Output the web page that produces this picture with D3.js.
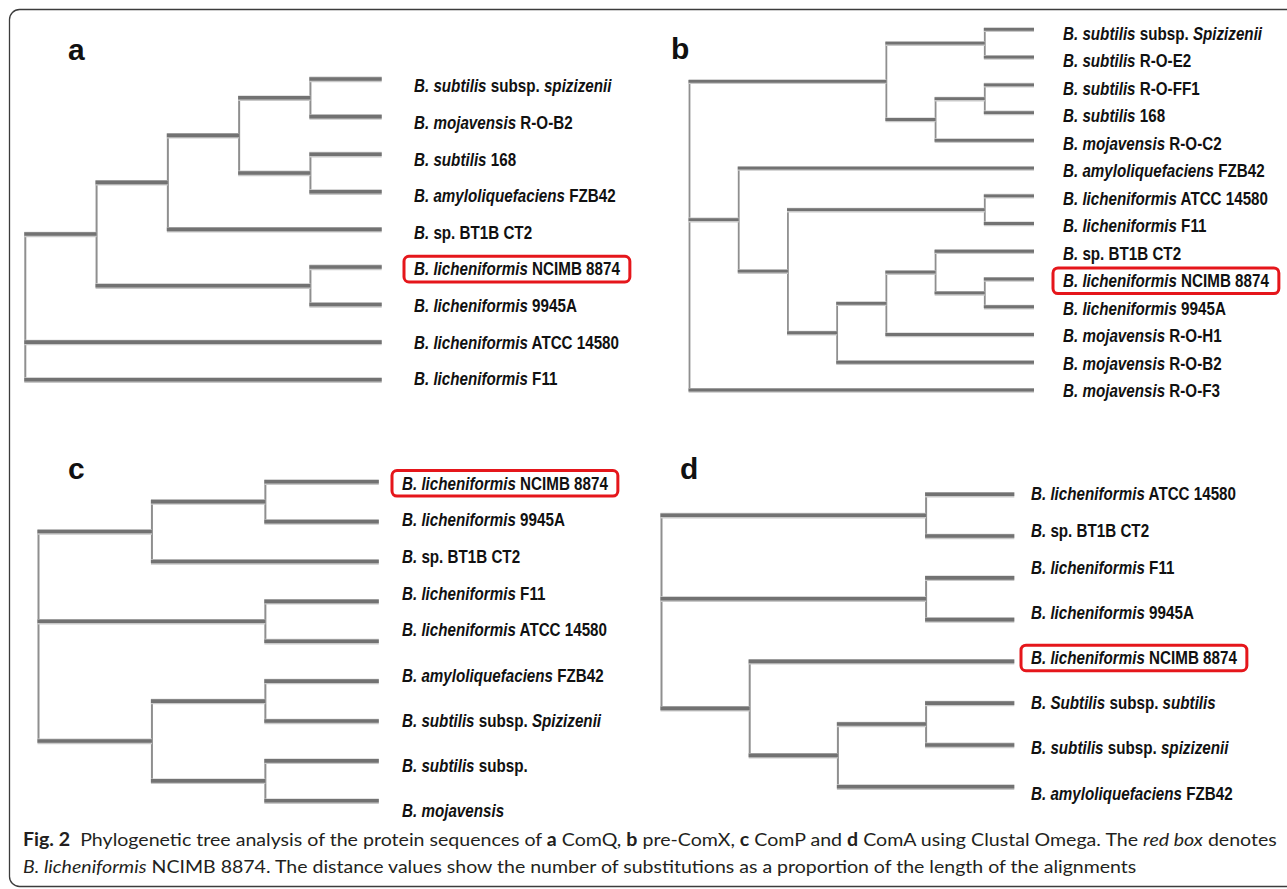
<!DOCTYPE html>
<html>
<head>
<meta charset="utf-8">
<script src="https://cdn.jsdelivr.net/npm/d3@7"></script>
<style>
  html, body { margin: 0; padding: 0; background: #fff; }
  svg { display: block; }
  text { white-space: pre; }
</style>
</head>
<body>
<svg id="fig" width="1287" height="889"></svg>
<script>
// ---- Data: leaf labels (italic runs wrapped in *...*) and tree topologies (nested arrays of leaf indices)

// a: ComQ
const labelsA = [
  "*B. subtilis* subsp. *spizizenii*",
  "*B. mojavensis* R-O-B2",
  "*B. subtilis* 168",
  "*B. amyloliquefaciens* FZB42",
  "*B.* sp. BT1B CT2",
  "*B. licheniformis* NCIMB 8874",
  "*B. licheniformis* 9945A",
  "*B. licheniformis* ATCC 14580",
  "*B. licheniformis* F11"
];
const treeA = [[[[[0, 1], [2, 3]], 4], [5, 6]], 7, 8];

// b: pre-ComX
const labelsB = [
  "*B. subtilis* subsp. *Spizizenii*",
  "*B. subtilis* R-O-E2",
  "*B. subtilis* R-O-FF1",
  "*B. subtilis* 168",
  "*B. mojavensis* R-O-C2",
  "*B. amyloliquefaciens* FZB42",
  "*B. licheniformis* ATCC 14580",
  "*B. licheniformis* F11",
  "*B.* sp. BT1B CT2",
  "*B. licheniformis* NCIMB 8874",
  "*B. licheniformis* 9945A",
  "*B. mojavensis* R-O-H1",
  "*B. mojavensis* R-O-B2",
  "*B. mojavensis* R-O-F3"
];
const treeB = [[[0, 1], [[2, 3], 4]], [5, [[6, 7], [[[8, [9, 10]], 11], 12]]], 13];

// c: ComP
const labelsC = [
  "*B. licheniformis* NCIMB 8874",
  "*B. licheniformis* 9945A",
  "*B.* sp. BT1B CT2",
  "*B. licheniformis* F11",
  "*B. licheniformis* ATCC 14580",
  "*B. amyloliquefaciens* FZB42",
  "*B. subtilis* subsp. *Spizizenii*",
  "*B. subtilis* subsp.",
  "*B. mojavensis*"
];
const treeC = [[[0, 1], 2], [3, 4], [[5, 6], [7, 8]]];

// d: ComA
const labelsD = [
  "*B. licheniformis* ATCC 14580",
  "*B.* sp. BT1B CT2",
  "*B. licheniformis* F11",
  "*B. licheniformis* 9945A",
  "*B. licheniformis* NCIMB 8874",
  "*B. Subtilis* subsp. *subtilis*",
  "*B. subtilis* subsp. *spizizenii*",
  "*B. amyloliquefaciens* FZB42"
];
const treeD = [[0, 1], [2, 3], [4, [[5, 6], 7]]];

const panelLetters = ["a", "b", "c", "d"];
const highlightStrain = "NCIMB 8874";

const captionLine1 = [
  ["b", "Fig. 2"], ["n", "  Phylogenetic tree analysis of the protein sequences of "],
  ["b", "a"], ["n", " ComQ, "], ["b", "b"], ["n", " pre-ComX, "],
  ["b", "c"], ["n", " ComP and "], ["b", "d"], ["n", " ComA using Clustal Omega. The "],
  ["i", "red box"], ["n", " denotes"]
];
const captionLine2 = [
  ["i", "B. licheniformis"],
  ["n", " NCIMB 8874. The distance values show the number of substitutions as a proportion of the length of the alignments"]
];

// ---- Layout of the four panels (pixel geometry only)
const panels = [
  { labels: labelsA, tree: treeA, letter: [68, 60], x: [25.3, 381.7], lineY: [79, 379.7],
    labelX: 414, labelDom: [0, 8], labelRng: [86, 379], hw: 3.6, vw: 2 },
  { labels: labelsB, tree: treeB, letter: [671, 59], x: [689.5, 1034], lineY: [29.3, 390],
    labelX: 1063, labelDom: [0, 13], labelRng: [33.3, 390.7], hw: 2.8, vw: 1.8 },
  { labels: labelsC, tree: treeC, letter: [68, 479], x: [38.5, 378.8], lineY: [481.7, 800.8],
    labelX: 402, labelDom: [0, 4, 8], labelRng: [483.3, 630, 811], hw: 3.6, vw: 2 },
  { labels: labelsD, tree: treeD, letter: [680, 479], x: [661.5, 1014.3], lineY: [494.3, 786.7],
    labelX: 1031, labelDom: [0, 2, 7], labelRng: [493.3, 567.7, 793.3], hw: 3.6, vw: 2 }
];

const labelFont = '"Liberation Sans Narrow", "Arial Narrow", "Liberation Sans", Arial, sans-serif';
const captionFont = 'Lato, "Open Sans", "Noto Sans", sans-serif';
const refLabelWidth = 206;   // rendered width of one full strain label

const svg = d3.select("#fig");

// Outer frame
svg.append("rect")
  .attr("x", 9.5).attr("y", 9.5)
  .attr("width", 1320).attr("height", 877)
  .attr("rx", 10)
  .attr("fill", "none")
  .attr("stroke", "#3c3c3c")
  .attr("stroke-width", 1.3);

function addRuns(textSel, markup) {
  markup.split("*").forEach((part, i) => {
    if (!part) return;
    textSel.append("tspan")
      .attr("font-style", i % 2 ? "italic" : "normal")
      .text(part);
  });
}

// Horizontal squeeze for labels so strain names keep the condensed look
let labelSqueeze = 1;
{
  const probe = svg.append("text")
    .attr("font-family", labelFont).attr("font-weight", "bold").attr("font-size", 17.5);
  addRuns(probe, "*B. licheniformis* NCIMB 8874");
  labelSqueeze = refLabelWidth / probe.node().getComputedTextLength();
  probe.remove();
}

panels.forEach((p, pi) => {
  const g = svg.append("g");

  const root = d3.hierarchy(p.tree, d => Array.isArray(d) ? d : null);
  const n = root.leaves().length;
  d3.cluster().size([n, 1]).separation(() => 1)(root);

  const xDepth = d3.scaleLinear([0, 1], p.x);
  const yLine = d3.scaleLinear([0.5, n - 0.5], p.lineY);
  const yLabel = d3.scaleLinear(p.labelDom, p.labelRng);

  const links = root.descendants().filter(d => d.parent);
  const internals = root.descendants().filter(d => d.children);

  // Vertical connectors
  g.append("g").selectAll("line").data(internals).join("line")
    .attr("x1", d => xDepth(d.y)).attr("x2", d => xDepth(d.y))
    .attr("y1", d => yLine(d.children[0].x) - p.hw / 2)
    .attr("y2", d => yLine(d.children[d.children.length - 1].x) + p.hw / 2)
    .attr("stroke", "#8f8f8f")
    .attr("stroke-width", p.vw);

  // Horizontal branches: soft halo plus darker core
  const hb = g.append("g");
  hb.selectAll("line.halo").data(links).join("line")
    .attr("class", "halo")
    .attr("x1", d => xDepth(d.parent.y) - p.vw / 2).attr("x2", d => xDepth(d.y))
    .attr("y1", d => yLine(d.x) + 0.4).attr("y2", d => yLine(d.x) + 0.4)
    .attr("stroke", "#c9c9c9")
    .attr("stroke-width", p.hw + 2);
  hb.selectAll("line.core").data(links).join("line")
    .attr("class", "core")
    .attr("x1", d => xDepth(d.parent.y) - p.vw / 2).attr("x2", d => xDepth(d.y))
    .attr("y1", d => yLine(d.x)).attr("y2", d => yLine(d.x))
    .attr("stroke", "#727272")
    .attr("stroke-width", p.hw);

  // Leaf labels
  const leaves = root.leaves();
  leaves.forEach(leaf => {
    const idx = leaf.x - 0.5;
    const markup = p.labels[leaf.data];
    const ty = yLabel(idx);
    const t = g.append("text")
      .attr("transform", `translate(${p.labelX},${ty}) scale(${labelSqueeze},1)`)
      .attr("dy", "0.36em")
      .attr("font-family", labelFont)
      .attr("font-weight", "bold")
      .attr("font-size", 17.5)
      .attr("fill", "#111");
    addRuns(t, markup);

    if (markup.includes(highlightStrain)) {
      const w = t.node().getComputedTextLength() * labelSqueeze;
      g.append("rect")
        .attr("x", p.labelX - 10)
        .attr("y", ty - 12.8)
        .attr("width", w + 20)
        .attr("height", 25.6)
        .attr("rx", 5)
        .attr("fill", "none")
        .attr("stroke", "#e5161b")
        .attr("stroke-width", 3);
    }
  });

  // Panel letter
  g.append("text")
    .attr("x", p.letter[0]).attr("y", p.letter[1])
    .attr("font-family", labelFont)
    .attr("font-weight", "bold")
    .attr("font-size", 30)
    .attr("fill", "#111")
    .text(panelLetters[pi]);
});

// Caption
function captionLine(runs, baseline, width) {
  const t = svg.append("text")
    .attr("font-family", captionFont)
    .attr("font-size", 18)
    .attr("fill", "#231f20");
  runs.forEach(([style, str]) => {
    t.append("tspan")
      .attr("font-weight", style === "b" ? "bold" : "normal")
      .attr("font-style", style === "i" ? "italic" : "normal")
      .text(str);
  });
  const k = width / t.node().getComputedTextLength();
  t.attr("transform", `translate(23,${baseline}) scale(${k},1)`);
}
captionLine(captionLine1, 846, 1255);
captionLine(captionLine2, 873, 1114);
</script>
</body>
</html>
